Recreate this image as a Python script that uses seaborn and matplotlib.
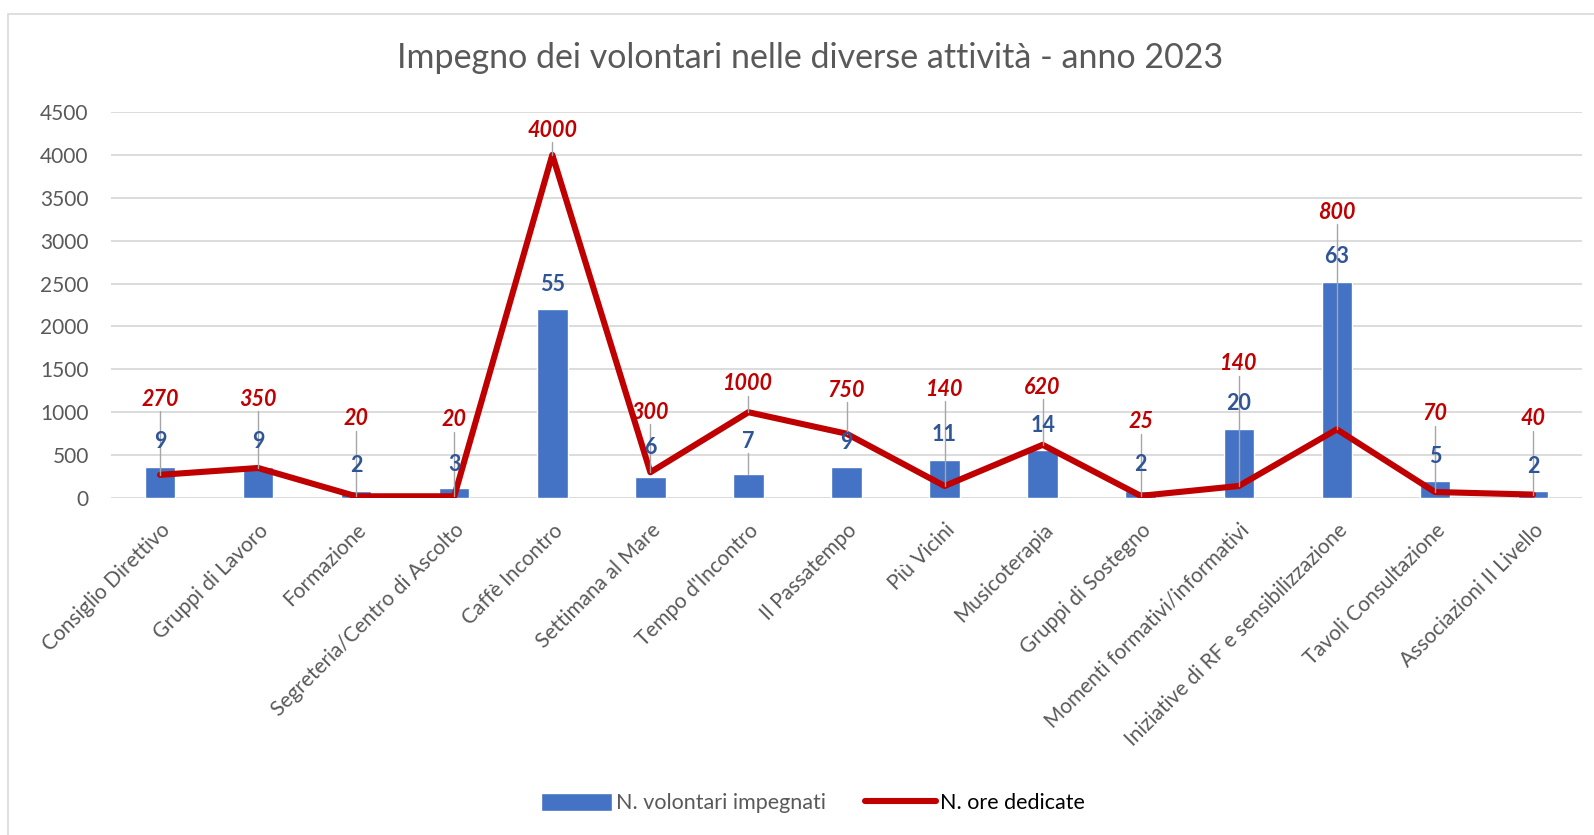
import pandas as pd
import matplotlib.pyplot as plt
import seaborn as sns
from matplotlib.patches import Rectangle, Patch
from matplotlib.lines import Line2D

# data
categories = [
    "Consiglio Direttivo", "Gruppi di Lavoro", "Formazione",
    "Segreteria/Centro di Ascolto", "Caffè Incontro", "Settimana al Mare",
    "Tempo d'Incontro", "Il Passatempo", "Più Vicini", "Musicoterapia",
    "Gruppi di Sostegno", "Momenti formativi/informativi",
    "Iniziative di RF e sensibilizzazione", "Tavoli Consultazione",
    "Associazioni II Livello",
]
volontari = [9, 9, 2, 3, 55, 6, 7, 9, 11, 14, 2, 20, 63, 5, 2]
bar_heights = [360, 360, 80, 120, 2200, 240, 280, 360, 440, 560, 80, 800, 2520, 200, 80]
ore = [270, 350, 20, 20, 4000, 300, 1000, 750, 140, 620, 25, 140, 800, 70, 40]

# label placement (data units) as moved by hand in the original
ore_label_y = [1150, 1150, 925, 910, 4290, 1000, 1330, 1255, 1270, 1290, 890, 1565, 3330, 985, 925]
vol_label_y = [660, 660, 380, 390, 2490, 590, 660, 650, 745, 850, 390, 1100, 2810, 485, 370]

df = pd.DataFrame({"Attività": categories, "Volontari": bar_heights, "Ore": ore})

sns.set_style("white")
plt.rcParams["font.family"] = ["Lato", "DejaVu Sans"]

W, H = 1594, 835
fig = plt.figure(figsize=(W / 100, H / 100), dpi=100)
ax = fig.add_axes([111 / W, 1 - 498 / H, 1471 / W, 386 / H])

sns.barplot(data=df, x="Attività", y="Volontari", color="#4472C4", width=0.31,
            saturation=1, ax=ax, zorder=2)
sns.lineplot(x=range(len(categories)), y=df["Ore"], color="#C00000", linewidth=4.4,
             ax=ax, zorder=3)

ax.set_xlim(-0.5, len(categories) - 0.5)
ax.set_ylim(0, 4500)
ax.set_yticks(range(0, 4501, 500))
ax.grid(axis="y", color="#D9D9D9", linewidth=1.3, zorder=0)
ax.set_axisbelow(True)
for s in ax.spines.values():
    s.set_visible(False)
ax.tick_params(length=0, labelsize=15, labelcolor="#595959")
ax.tick_params(axis="y", pad=16)
ax.tick_params(axis="x", pad=16)
ax.set_xlabel("")
ax.set_ylabel("")
plt.setp(ax.get_xticklabels(), rotation=45, ha="right", rotation_mode="anchor")

# leader lines and labels
for i in range(len(categories)):
    ly = ore_label_y[i]
    if ly - ore[i] > 250:
        ax.plot([i, i], [ly - 140, ore[i]], color="#A6A6A6", linewidth=1, zorder=4)
    ax.text(i, ly, str(ore[i]), color="#C00000", fontsize=15.5, fontweight="bold",
            fontstyle="italic", ha="center", va="center", zorder=5)
    vy = vol_label_y[i]
    if i == 6:
        ax.plot([i, i], [vy - 140, bar_heights[i]], color="#A6A6A6", linewidth=1, zorder=4)
    ax.text(i, vy, str(volontari[i]), color="#2F5597", fontsize=15.5, fontweight="bold",
            ha="center", va="center", zorder=5)

fig.text(810 / W, 1 - 58 / H, "Impegno dei volontari nelle diverse attività - anno 2023",
         ha="center", va="center", fontsize=24.5, color="#595959")

handles = [Patch(facecolor="#4472C4"),
           Line2D([0], [0], color="#C00000", linewidth=4.4, solid_capstyle="round")]
leg = fig.legend(handles, ["N. volontari impegnati", "N. ore dedicate"],
                 loc="center", bbox_to_anchor=(813 / W, 1 - 803 / H), ncol=2,
                 frameon=False, fontsize=15.5, handlelength=3.3, handleheight=0.9,
                 columnspacing=1.8, handletextpad=0.2)
leg.get_texts()[0].set_color("#595959")
leg.get_texts()[1].set_color("#000000")

fig.patches.append(Rectangle((8 / W, -0.01), 1.1, 1 - 14 / H + 0.01,
                             transform=fig.transFigure, fill=False,
                             edgecolor="#D9D9D9", linewidth=1.2))

fig.savefig("out.png", dpi=100)
